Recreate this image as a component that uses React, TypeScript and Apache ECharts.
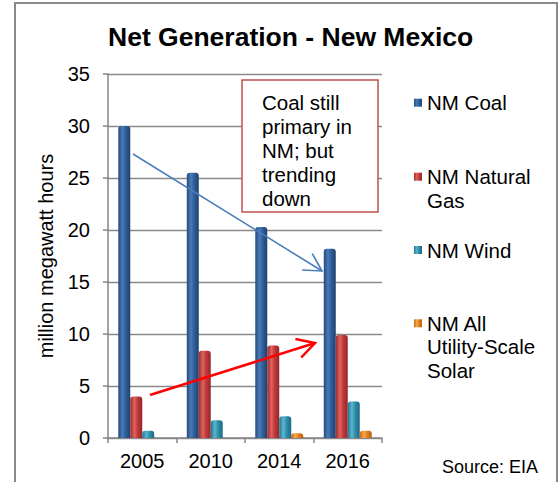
import React, { useEffect, useRef } from "react";
import * as echarts from "echarts";

// ---- data ----
const years = ["2005", "2010", "2014", "2016"];
const coal = [30.0, 25.5, 20.3, 18.2];
const naturalGas = [4.0, 8.4, 8.9, 9.9];
const wind = [0.7, 1.7, 2.1, 3.5];
const solar = [0, 0, 0.45, 0.7];
const seriesNames = ["NM Coal", "NM Natural Gas", "NM Wind", "NM All Utility-Scale Solar"];
const legendLines = [["NM Coal"], ["NM Natural", "Gas"], ["NM Wind"], ["NM All", "Utility-Scale", "Solar"]];
const yMin = 0;
const yMax = 35;
const yStep = 5;
const titleText = "Net Generation - New Mexico";
const yAxisTitle = "million megawatt hours";
const noteLines = ["Coal still", "primary in", "NM; but", "trending", "down"];
const sourceText = "Source: EIA";

const FONT = "'Liberation Sans', Arial, Helvetica, sans-serif";

const grad = (edge: string, light: string, mid: string, edge2: string) => ({
  type: "linear",
  x: 0,
  y: 0,
  x2: 1,
  y2: 0,
  colorStops: [
    { offset: 0, color: edge },
    { offset: 0.35, color: light },
    { offset: 0.6, color: mid },
    { offset: 1, color: edge2 },
  ],
});

const colors = [
  grad("#234a7c", "#4b7bb6", "#30609c", "#1f416c"),
  grad("#9e2a2a", "#dc6462", "#c23b3a", "#942727"),
  grad("#1f7590", "#5db6cf", "#2e90ab", "#1c6a82"),
  grad("#c96610", "#f7a855", "#e4831f", "#b85d0e"),
];

function arrowHead(x1: number, y1: number, x2: number, y2: number, len: number, angDeg: number) {
  const a = Math.atan2(y1 - y2, x1 - x2);
  const d = (angDeg * Math.PI) / 180;
  return [
    [x2 + len * Math.cos(a + d), y2 + len * Math.sin(a + d)],
    [x2, y2],
    [x2 + len * Math.cos(a - d), y2 + len * Math.sin(a - d)],
  ];
}

export default function App() {
  const ref = useRef<HTMLDivElement>(null);
  useEffect(() => {
    document.body.style.margin = "0";
    if (!ref.current) return;
    const chart = echarts.init(ref.current, undefined, { renderer: "svg" });

    const LH = 23.5;
    const legendFirstY = [102.7, 176.7, 250, 323.3];
    const legends = legendLines.map((lines, i) => {
      const n = lines.length;
      // pad with blank lines above so the icon lines up with the first text line
      const padded = [...Array(n - 1).fill(" "), ...lines];
      return {
        data: [{ name: seriesNames[i] }],
        formatter: () => padded.join("\n"),
        left: 414,
        top: legendFirstY[i] - ((2 * n - 1) * LH) / 2,
        orient: "vertical",
        itemWidth: 8,
        itemHeight: 8,
        itemGap: 0,
        padding: 0,
        icon: "rect",
        selectedMode: false,
        textStyle: {
          fontSize: 20.5,
          fontFamily: FONT,
          color: "#000",
          lineHeight: LH,
        },
      };
    });

    const blue = { x1: 133, y1: 154, x2: 322, y2: 271 };
    const red = { x1: 150, y1: 395, x2: 315, y2: 343 };

    chart.setOption({
      animation: false,
      title: {
        text: titleText,
        left: 108,
        top: 23,
        padding: 0,
        textStyle: { fontSize: 26.5, fontWeight: "bold", fontFamily: FONT, color: "#000" },
      },
      legend: legends,
      grid: { left: 108, top: 74, width: 274, height: 364 },
      xAxis: {
        type: "category",
        data: years,
        axisLine: { lineStyle: { color: "#868686", width: 1.5 } },
        axisTick: { show: true, length: 5, lineStyle: { color: "#868686", width: 1.5 } },
        axisLabel: { fontSize: 20, fontFamily: FONT, color: "#000", margin: 13 },
      },
      yAxis: {
        type: "value",
        min: yMin,
        max: yMax,
        interval: yStep,
        name: yAxisTitle,
        nameLocation: "middle",
        nameGap: 52,
        nameTextStyle: { fontSize: 20, fontFamily: FONT, color: "#000" },
        axisLine: { show: true, lineStyle: { color: "#868686", width: 1.5 } },
        axisTick: { show: true, length: 5, lineStyle: { color: "#868686", width: 1.5 } },
        axisLabel: { fontSize: 20, fontFamily: FONT, color: "#000", margin: 18 },
        splitLine: { lineStyle: { color: "#8a8a8a", width: 1.3 } },
      },
      series: [coal, naturalGas, wind, solar].map((d, i) => ({
        type: "bar",
        name: seriesNames[i],
        data: d,
        barGap: "0%",
        barCategoryGap: "30%",
        itemStyle: { color: colors[i], borderRadius: [3, 3, 0, 0] },
      })),
      graphic: [
        {
          type: "rect",
          shape: { x: 15, y: 3, width: 542, height: 520 },
          style: { fill: "none", stroke: "#8a8a8a", lineWidth: 2 },
          silent: true,
          z: 100,
        },
        {
          type: "rect",
          shape: { x: 242, y: 80, width: 136, height: 132 },
          style: { fill: "#fff", stroke: "#c0504d", lineWidth: 1.5 },
          z: 100,
        },
        {
          type: "text",
          x: 262,
          y: 90.7,
          z: 101,
          style: {
            text: noteLines.join("\n"),
            fontSize: 20.5,
            fontFamily: FONT,
            fill: "#000",
            lineHeight: 24,
            verticalAlign: "top",
            align: "left",
          },
        },
        {
          type: "polyline",
          z: 102,
          shape: { points: [[blue.x1, blue.y1], [blue.x2, blue.y2]] },
          style: { stroke: "#4a7ebb", lineWidth: 1.6, fill: "none" },
        },
        {
          type: "polyline",
          z: 102,
          shape: { points: arrowHead(blue.x1, blue.y1, blue.x2, blue.y2, 20, 29) },
          style: { stroke: "#4a7ebb", lineWidth: 1.6, fill: "none" },
        },
        {
          type: "polyline",
          z: 102,
          shape: { points: [[red.x1, red.y1], [red.x2, red.y2]] },
          style: { stroke: "#ff0000", lineWidth: 2.5, fill: "none" },
        },
        {
          type: "polyline",
          z: 102,
          shape: { points: arrowHead(red.x1, red.y1, red.x2, red.y2, 20, 29) },
          style: { stroke: "#ff0000", lineWidth: 2.5, fill: "none" },
        },
        {
          type: "text",
          x: 442,
          y: 467,
          z: 101,
          style: {
            text: sourceText,
            fontSize: 18,
            fontFamily: FONT,
            fill: "#000",
            verticalAlign: "middle",
            align: "left",
          },
        },
      ],
    });
    return () => chart.dispose();
  }, []);
  return <div ref={ref} style={{ position: "absolute", left: 0, top: 0, width: 560, height: 482 }} />;
}
